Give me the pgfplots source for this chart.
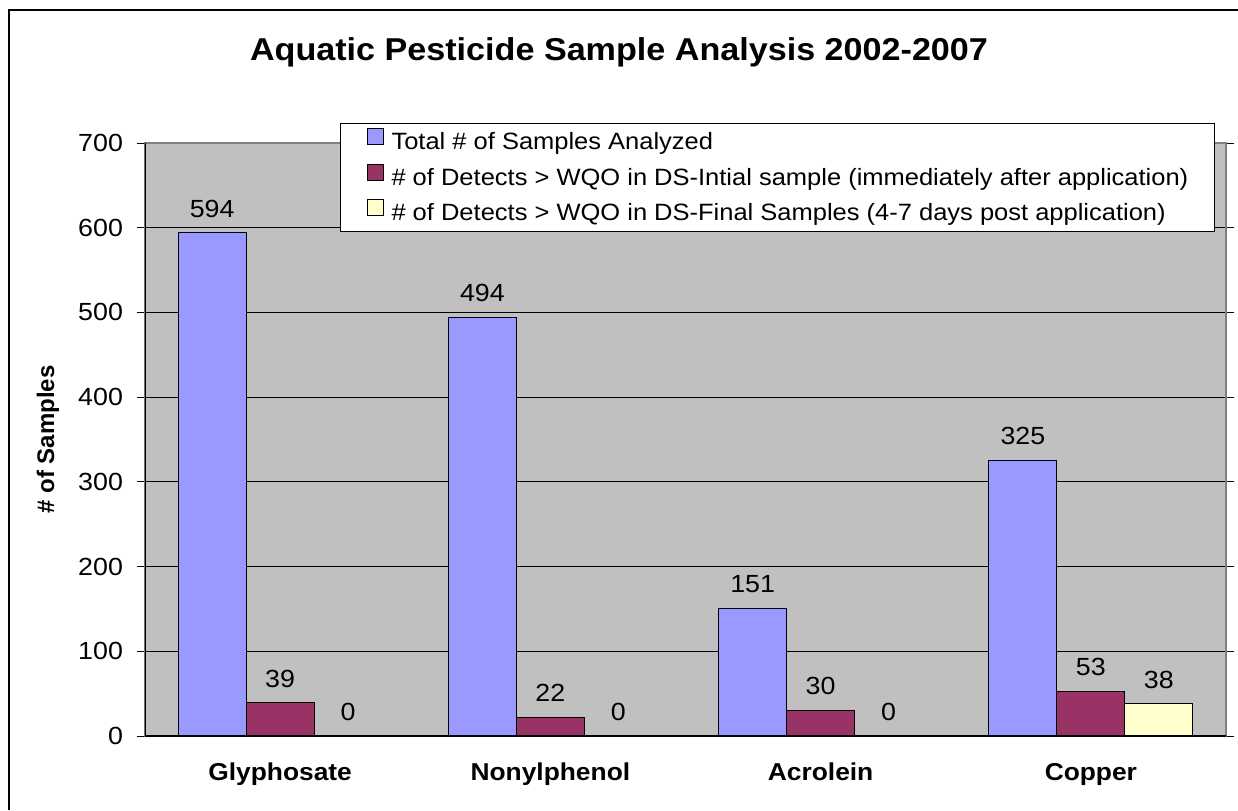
\documentclass[border=0pt]{standalone}
\usepackage{fontspec}
\setmainfont{Liberation Sans}[FakeStretch=1.08]
\newfontfamily\plainsans{Liberation Sans}
\usepackage{pgfplots}
\pgfplotsset{compat=1.18}

\definecolor{barblue}{HTML}{9999FF}
\definecolor{barplum}{HTML}{993366}
\definecolor{barcream}{HTML}{FFFFCC}
\definecolor{plotgrey}{HTML}{C0C0C0}
\definecolor{edgegrey}{HTML}{808080}

\newcommand{\tf}{\fontsize{12.4}{14}\selectfont}

\begin{document}
\begin{tikzpicture}
\useasboundingbox (0pt,0pt) rectangle (619pt,-405pt);
% outer chart frame (right and bottom edges fall outside the picture)
\draw[line width=1.25pt] (4.5pt,-405pt) -- (4.5pt,-5pt) -- (619pt,-5pt);
\begin{axis}[
  at={(72.5pt,-368pt)}, anchor=south west,
  scale only axis,
  width=540.5pt, height=296.5pt,
  xmin=-0.5, xmax=3.5,
  ymin=0, ymax=700,
  ytick={0,100,...,700},
  xtick={0,1,2,3},
  xticklabels={Glyphosate,Nonylphenol,Acrolein,Copper},
  minor xtick={-0.5,0.5,1.5,2.5,3.5},
  tick align=outside,
  major tick length=4pt, minor tick length=4pt,
  xtick style={draw=none},
  minor tick style={black, line width=0.5pt},
  ytick style={black, line width=0.5pt},
  ymajorgrids,
  major grid style={black, line width=0.5pt},
  axis line style={draw=edgegrey, line width=0.75pt},
  axis background/.style={fill=plotgrey},
  /pgf/number format/assume math mode=true,
  tick label style={font=\tf},
  yticklabel style={xshift=-3.5pt},
  xticklabel style={font=\fontsize{12.2}{14}\selectfont\bfseries, yshift=-6pt},
  every axis y label/.style={at={(axis description cs:-0.0897,0.5)}, anchor=center, rotate=90, font=\plainsans\fontsize{12}{14}\selectfont\bfseries},
  ylabel={\# of Samples},
  title={Aquatic Pesticide Sample Analysis 2002-2007},
  title style={at={(axis description cs:0.4385,1.1335)}, anchor=center, font=\fontsize{15.8}{19}\selectfont\bfseries},
  ybar=0pt, bar width=34pt,
  nodes near coords,
  every node near coord/.append style={font=\tf, inner sep=0pt, anchor=south, yshift=7.5pt, black},
  legend style={at={(axis description cs:0.1804,1.0337)}, anchor=north west,
    draw=black, fill=white, line width=0.5pt, font=\fontsize{11.8}{14}\selectfont,
    inner xsep=13pt, inner ysep=2.3pt, row sep=4pt, column sep=4pt,
    nodes={text height=9pt, text depth=3pt, inner sep=0pt}},
  legend cell align=left,
  legend image code/.code={\draw[#1, draw=black, line width=0.5pt] (0pt,-0.5pt) rectangle (8pt,7.5pt);},
]
\addplot[fill=barblue, draw=black, line width=0.5pt] coordinates {(0,594) (1,494) (2,151) (3,325)};
\addplot[fill=barplum, draw=black, line width=0.5pt] coordinates {(0,39) (1,22) (2,30) (3,53)};
\addplot[fill=barcream, draw=black, line width=0.5pt] coordinates {(0,0) (1,0) (2,0) (3,38)};
\legend{Total \# of Samples Analyzed,
  \# of Detects > WQO in DS-Intial sample (immediately after application),
  \# of Detects > WQO in DS-Final Samples (4-7 days post application)}
\draw[black, line width=0.75pt] (rel axis cs:0,1) -- (rel axis cs:0,0) -- (rel axis cs:1,0);
\end{axis}
\end{tikzpicture}
\end{document}
